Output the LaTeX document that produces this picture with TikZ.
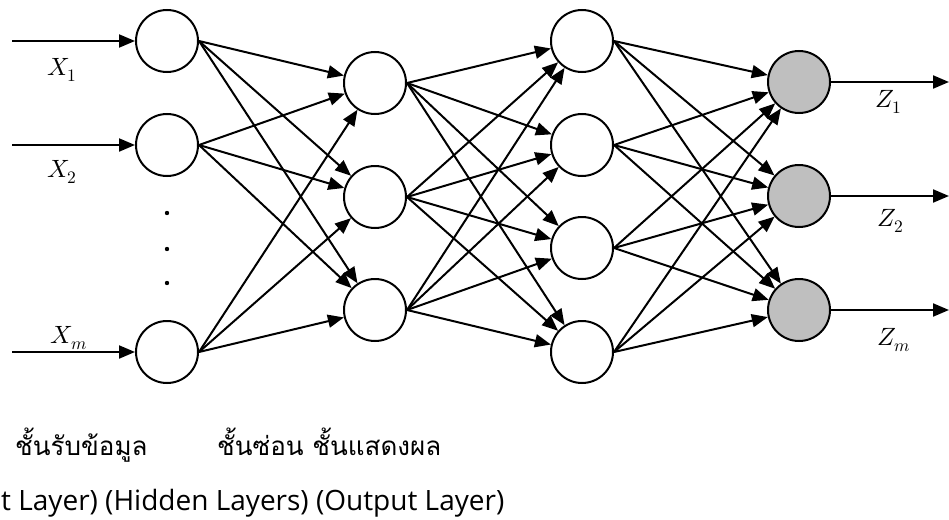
\documentclass[tikz,border=0pt]{standalone}
\usepackage{fontspec}
\usepackage{unicode-math}
\setmathfont{Latin Modern Math}
\newfontfamily\thaifont[Script=Thai]{Loma}
\newfontfamily\layerfont{Open Sans}
\usetikzlibrary{arrows.meta}

\tikzset{
  neuron/.style={circle,draw,line width=2pt,minimum size=62pt,inner sep=0pt},
  outneuron/.style={neuron,fill=black!25},
  link/.style={line width=2pt,-{Triangle[length=16pt,width=13pt]}},
  varlabel/.style={font=\fontsize{25}{29}\selectfont},
}

\begin{document}
\begin{tikzpicture}[x=1pt,y=-1pt]
  \useasboundingbox (0,0) rectangle (949,519);
  % input layer
  \node[neuron] (I1) at (167,41) {};
  \node[neuron] (I2) at (167,145) {};
  \node[neuron] (Im) at (167,352) {};
  \fill (167,213) circle (2.2pt);
  \fill (167,249) circle (2.2pt);
  \fill (167,283) circle (2.2pt);
  % hidden layers
  \node[neuron] (H1) at (375,83) {};
  \node[neuron] (H2) at (375,197) {};
  \node[neuron] (H3) at (375,310) {};
  \node[neuron] (G1) at (582,41) {};
  \node[neuron] (G2) at (582,145) {};
  \node[neuron] (G3) at (582,248) {};
  \node[neuron] (G4) at (582,352) {};
  % output layer
  \node[outneuron] (O1) at (799,82) {};
  \node[outneuron] (O2) at (799,196) {};
  \node[outneuron] (Om) at (799,310) {};
  % inputs and outputs
  \coordinate (x1) at (12,41);
  \coordinate (x2) at (12,145);
  \coordinate (xm) at (12,352);
  \coordinate (z1) at (949,82);
  \coordinate (z2) at (949,196);
  \coordinate (zm) at (949,310);
  \draw[link] (x1) -- (I1);
  \draw[link] (x2) -- (I2);
  \draw[link] (xm) -- (Im);
  \draw[link] (O1) -- (z1);
  \draw[link] (O2) -- (z2);
  \draw[link] (Om) -- (zm);
  % weights
  \foreach \a in {I1,I2,Im}
    \foreach \b in {H1,H2,H3}
      \draw[link] (\a.east) -- (\b);
  \foreach \a in {H1,H2,H3}
    \foreach \b in {G1,G2,G3,G4}
      \draw[link] (\a.east) -- (\b);
  \foreach \a in {G1,G2,G3,G4}
    \foreach \b in {O1,O2,Om}
      \draw[link] (\a.east) -- (\b);
  % labels
  \node[varlabel] (lx1) at (62,70) {$X_1$};
  \node[varlabel] (lx2) at (62,172) {$X_2$};
  \node[varlabel] (lxm) at (69,338) {$X_m$};
  \node[varlabel] (lz1) at (889,102) {$Z_1$};
  \node[varlabel] (lz2) at (891,221) {$Z_2$};
  \node[varlabel] (lzm) at (894,340) {$Z_m$};
  \node[anchor=base west,inner sep=0pt,font=\thaifont\fontsize{26}{30}\selectfont] (tin) at (15,455) {ชั้นรับข้อมูล};
  \node[anchor=base west,inner sep=0pt,font=\thaifont\fontsize{26}{30}\selectfont] (thid) at (217,455) {ชั้นซ่อน ชั้นแสดงผล};
  \node[anchor=base west,inner sep=0pt,font=\layerfont\fontsize{28}{32}\selectfont] (eng) at (1,510) {t Layer) (Hidden Layers) (Output Layer)};
\end{tikzpicture}
\end{document}
